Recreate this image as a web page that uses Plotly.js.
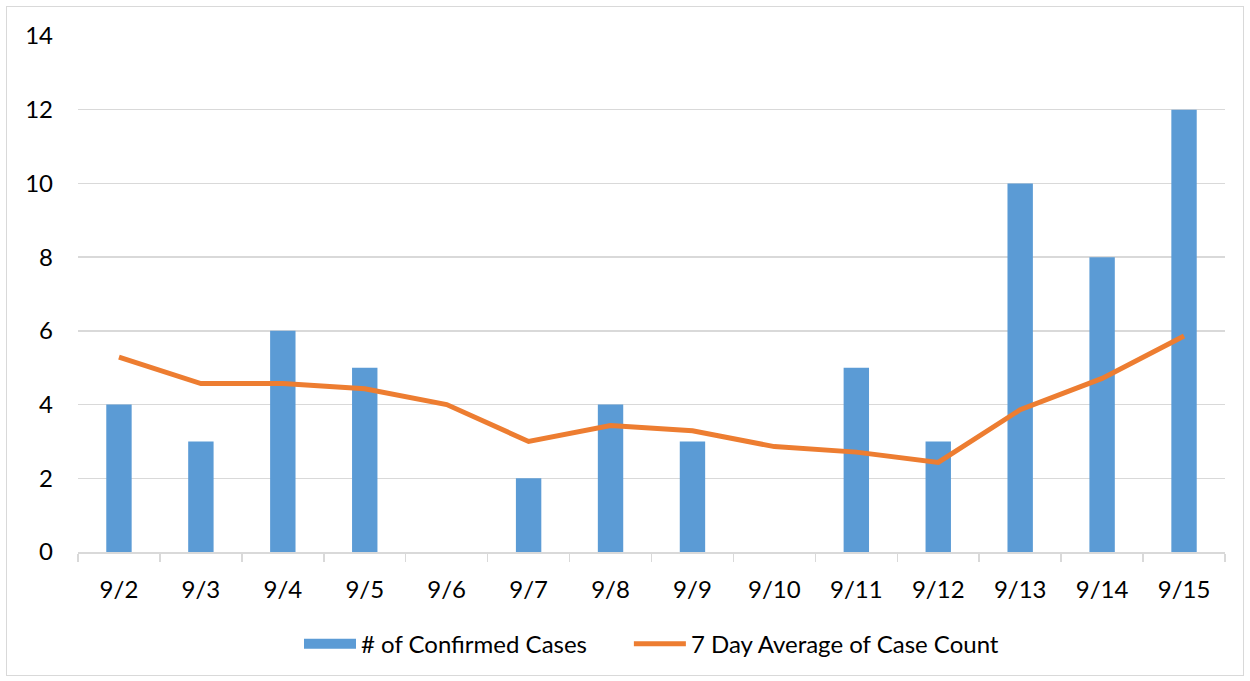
<!DOCTYPE html>
<html>
<head>
<meta charset="utf-8">
<script src="https://cdn.plot.ly/plotly-3.0.1.min.js"></script>
<style>
  html, body { margin: 0; padding: 0; background: #fff; }
  #frame { position: absolute; left: 6px; top: 6px; width: 1238px; height: 670px; border: 1.5px solid #d9d9d9; box-sizing: border-box; pointer-events: none; z-index: 5; }
  #chart { position: absolute; left: 0; top: 0; width: 1250px; height: 681px; }
</style>
</head>
<body>
<div id="chart"></div>
<div id="frame"></div>
<script>
const dates = ["9/2","9/3","9/4","9/5","9/6","9/7","9/8","9/9","9/10","9/11","9/12","9/13","9/14","9/15"];
const confirmedCases = [4,3,6,5,0,2,4,3,0,5,3,10,8,12];
const sevenDayAverage = [5.29,4.57,4.57,4.43,4.0,3.0,3.43,3.29,2.86,2.71,2.43,3.86,4.71,5.86];

const FONT = "Lato, 'Open Sans', sans-serif";
const FS = 24;

const traces = [
  {
    type: "bar",
    name: "# of Confirmed Cases",
    legendgroup: "cases",
    showlegend: false,
    x: dates,
    y: confirmedCases,
    marker: { color: "#5B9BD5" }
  },
  {
    // legend entry for the bars: wide rectangular swatch
    type: "scatter",
    mode: "lines",
    name: "# of Confirmed Cases" + "\u00A0".repeat(6),
    legendgroup: "cases",
    x: [null],
    y: [null],
    line: { color: "#5B9BD5", width: 15 }
  },
  {
    type: "scatter",
    mode: "lines",
    name: "7 Day Average of Case Count",
    legendgroup: "avg",
    x: dates,
    y: sevenDayAverage,
    line: { color: "#ED7D31", width: 5 }
  }
];

const layout = {
  width: 1250,
  height: 681,
  margin: { l: 78, r: 25, t: 36, b: 129 },
  paper_bgcolor: "#ffffff",
  plot_bgcolor: "#ffffff",
  bargap: 0.69,
  showlegend: true,
  font: { family: FONT, size: FS, color: "#000" },
  xaxis: {
    type: "category",
    showline: true,
    linecolor: "#d9d9d9",
    linewidth: 1.5,
    ticks: "outside",
    tickson: "boundaries",
    ticklen: 8,
    tickcolor: "#d9d9d9",
    tickwidth: 1.5,
    showgrid: false,
    ticklabelstandoff: 16,
    tickfont: { family: FONT, size: FS, color: "#000" },
    fixedrange: true
  },
  yaxis: {
    range: [0, 14],
    tickvals: [0, 2, 4, 6, 8, 10, 12, 14],
    showgrid: true,
    gridcolor: "#d9d9d9",
    gridwidth: 1.5,
    zeroline: false,
    showline: false,
    ticks: "",
    ticklabelstandoff: 24,
    tickfont: { family: FONT, size: FS, color: "#000" },
    fixedrange: true
  },
  legend: {
    orientation: "h",
    x: 0.5,
    xanchor: "center",
    y: -0.135,
    yanchor: "top",
    font: { family: FONT, size: FS, color: "#000" },
    itemwidth: 52
  }
};

Plotly.newPlot("chart", traces, layout, { displayModeBar: false, staticPlot: true });
</script>
</body>
</html>
